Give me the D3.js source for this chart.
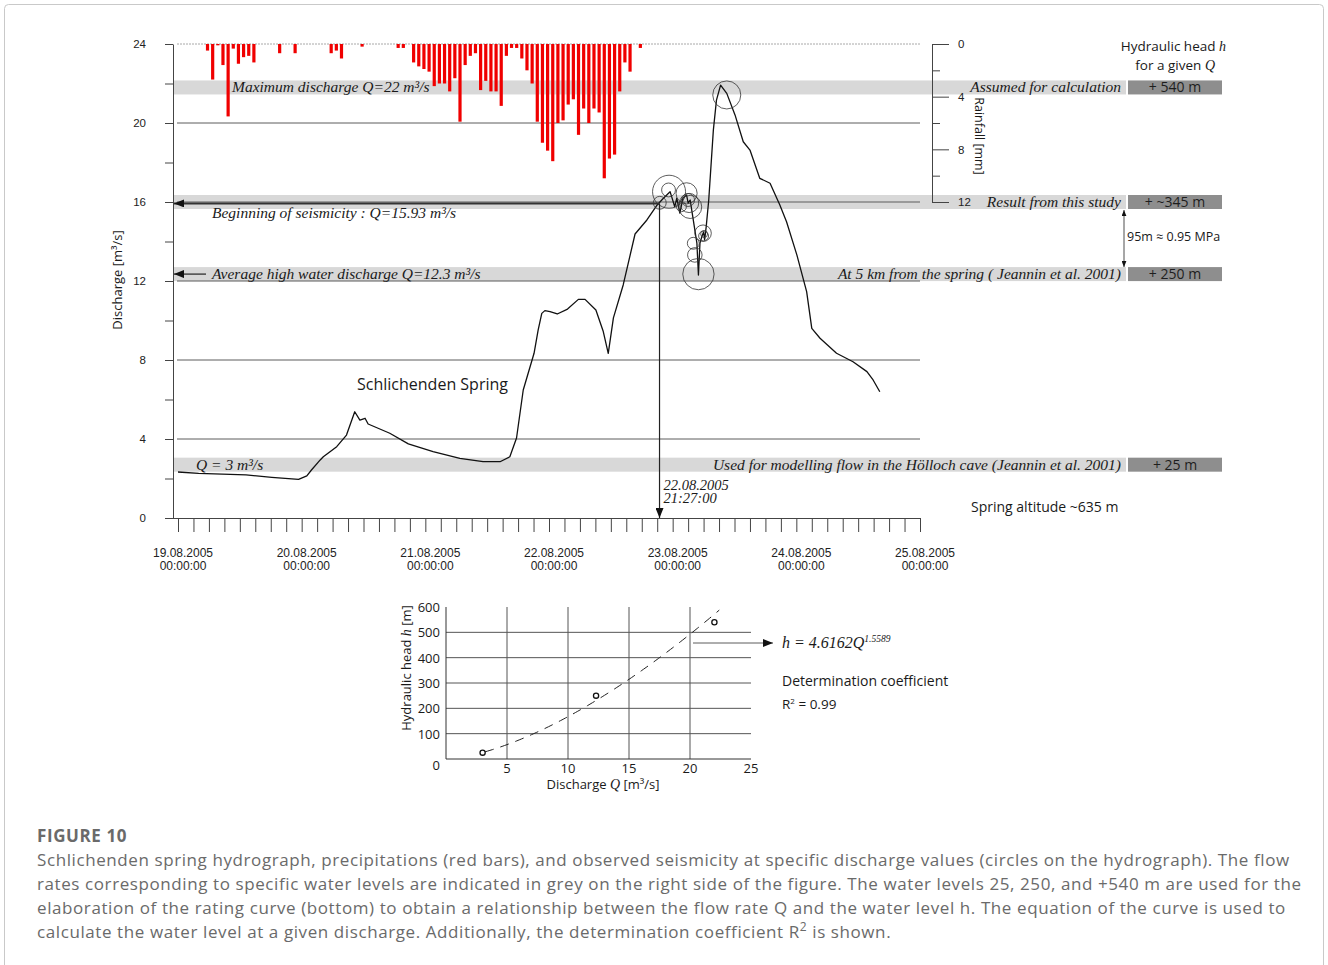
<!DOCTYPE html>
<html>
<head>
<meta charset="utf-8">
<script src="https://cdn.jsdelivr.net/npm/d3@7"></script>
<style>
body { margin: 0; background: #fff; }
text { font-family: "Open Sans", "Noto Sans", sans-serif; fill: #1a1a1a; }
.serif { font-family: "Liberation Serif", "Times New Roman", serif; font-style: italic; }
.arial { font-family: "Liberation Sans", Arial, sans-serif; }
.caption { fill: #6a6a6a; letter-spacing: 0.59px; }
</style>
</head>
<body>
<script>
// ---- data ----
// hydrograph: hours since 19.08.2005 00:00 and discharge [m3/s]
var hydroHour = [0, 4.0, 13.2, 18.2, 23.4, 25.0, 25.9, 27.6, 28.2, 30.8, 32.7, 34.3, 35.3, 36.3, 36.9,
  41.1, 44.7, 49.5, 54.7, 59.2, 62.5, 64.4, 65.7, 67.0, 69.1, 69.9, 70.6, 71.2, 72.2, 73.6,
  75.6, 77.7, 79.0, 81.1, 82.5, 83.5, 84.5, 86.4, 88.7, 91.0, 92.9, 94.2, 95.5, 95.8, 96.4,
  96.8, 97.4, 98.0, 98.7, 99.0, 99.4, 99.9, 100.7, 101.0, 101.3, 101.7, 102.0, 102.2, 102.5, 103.0,
  103.9, 104.5, 105.3, 106.5, 108.1, 109.7, 111.0, 112.9, 114.9, 116.8, 118.1, 120.1, 122.0, 123.0,
  124.6, 127.8, 131.0, 133.7, 134.9, 136.2];
var hydroQ = [2.33, 2.26, 2.18, 2.06, 1.96, 2.13, 2.43, 2.94, 3.10, 3.61, 4.20, 5.38, 4.96, 5.05, 4.76,
  4.29, 3.75, 3.36, 3.02, 2.85, 2.85, 3.10, 4.05, 6.48, 8.34, 9.52, 10.36, 10.50, 10.45, 10.33,
  10.58, 11.07, 11.07, 10.53, 9.47, 8.34, 10.13, 11.80, 14.38, 15.09, 15.82, 16.19, 16.52, 16.27, 15.76,
  16.20, 15.44, 16.20, 16.35, 15.95, 16.10, 15.26, 13.92, 12.30, 13.92, 14.28, 14.48, 14.08, 14.73, 16.10,
  19.65, 21.16, 21.92, 21.50, 20.41, 19.05, 18.63, 17.20, 16.95, 15.85, 15.00, 13.32, 11.46, 9.60,
  9.10, 8.34, 7.91, 7.41, 6.99, 6.39];

// hourly rainfall [mm]
var rainHour = [6, 7, 8, 9, 10, 11, 12, 13, 14, 15, 20, 23, 30, 31, 32, 36, 43, 44,
  46, 47, 48, 49, 50, 51, 52, 53, 54, 55, 56, 57, 58, 59, 60, 61, 62, 63, 64, 65, 66, 67, 68,
  69, 70, 71, 72, 73, 74, 75, 76, 77, 78, 79, 80, 81, 82, 83, 84, 85, 86, 87, 88, 90];
var rainMm = [0.5, 2.7, 0.1, 1.6, 5.5, 0.35, 1.5, 1.0, 0.9, 1.4, 0.7, 0.7, 0.7, 0.5, 1.1, 0.2, 0.3, 0.3,
  1.4, 1.7, 1.9, 2.1, 3.2, 3.0, 3.0, 3.6, 2.6, 5.9, 1.6, 0.9, 0.7, 3.5, 2.8, 3.6, 3.6, 4.7, 0.9, 0.3, 0.3, 1.1, 2.0,
  3.0, 5.9, 7.5, 8.1, 8.9, 6.0, 5.8, 4.6, 4.2, 6.9, 4.9, 6.0, 4.9, 5.2, 10.2, 8.7, 8.4, 3.6, 1.4, 2.1, 0.3];

// seismic events on the hydrograph (relative magnitude 0..1)
var seisHour = [93.5, 95.2, 95.3, 97.7, 98.7, 99.0, 99.2, 99.4, 100.0, 100.3, 101.0, 101.9, 102.0, 102.1, 106.5];
var seisQ = [15.96, 16.61, 16.52, 15.76, 16.44, 16.10, 15.95, 15.75, 13.91, 13.32, 12.35, 14.42, 14.28, 14.38, 21.42];
var seisMag = [0.39, 0.42, 1.0, 0.3, 0.64, 0.39, 0.58, 0.7, 0.36, 0.44, 0.95, 0.5, 0.3, 0.21, 0.85];

var seisStartHour = 93.45, seisStartQ = 15.93;

// reference discharge levels
var bandQ = [21.8, 16.0, 12.35, 2.7];
var bandLeftText = ["Maximum discharge Q=22 m³/s", "Beginning of seismicity : Q=15.93 m³/s",
  "Average high water discharge Q=12.3 m³/s", "Q = 3 m³/s"];
var bandRightText = ["Assumed for calculation", "Result from this study",
  "At 5 km from the spring ( Jeannin et al. 2001)", "Used for modelling flow in the Hölloch cave (Jeannin et al. 2001)"];
var headText = ["+ 540 m", "+ ~345 m", "+ 250 m", "+ 25 m"];

var dayHours = [0, 24, 48, 72, 96, 120, 144];
var dayLabels = ["19.08.2005", "20.08.2005", "21.08.2005", "22.08.2005", "23.08.2005", "24.08.2005", "25.08.2005"];
var qTicks = [0, 4, 8, 12, 16, 20, 24];
var rainTicks = [0, 4, 8, 12];

// rating curve
var ratingQ = [3, 12.3, 22];
var ratingH = [25, 250, 540];
var fitA = 4.6162, fitB = 1.5589;
var hTicks = [100, 200, 300, 400, 500, 600];
var dTicks = [5, 10, 15, 20, 25];

var captionLines = [
  "Schlichenden spring hydrograph, precipitations (red bars), and observed seismicity at specific discharge values (circles on the hydrograph). The flow",
  "rates corresponding to specific water levels are indicated in grey on the right side of the figure. The water levels 25, 250, and +540 m are used for the",
  "elaboration of the rating curve (bottom) to obtain a relationship between the flow rate Q and the water level h. The equation of the curve is used to",
  "calculate the water level at a given discharge. Additionally, the determination coefficient R"
];

// ---- chart ----
var width = 1328, height = 965;

var svg = d3.select("body").append("svg")
            .attr("width", width)
            .attr("height", height);

svg.append("rect")
   .attr("x", 4.5).attr("y", 4.5)
   .attr("width", 1319).attr("height", 1000)
   .attr("rx", 4)
   .attr("fill", "none")
   .attr("stroke", "#c9c9c9");

var defs = svg.append("defs");
defs.append("marker")
    .attr("id", "arrow")
    .attr("viewBox", "0 0 10 8")
    .attr("refX", 10).attr("refY", 4)
    .attr("markerWidth", 10).attr("markerHeight", 8)
    .attr("markerUnits", "userSpaceOnUse")
    .attr("orient", "auto-start-reverse")
    .append("path")
    .attr("d", "M0,0L10,4L0,8z")
    .attr("fill", "#111");
defs.append("marker")
    .attr("id", "smallArrow")
    .attr("viewBox", "0 0 10 8")
    .attr("refX", 10).attr("refY", 4)
    .attr("markerWidth", 6).attr("markerHeight", 5)
    .attr("markerUnits", "userSpaceOnUse")
    .attr("orient", "auto-start-reverse")
    .append("path")
    .attr("d", "M0,0L10,4L0,8z")
    .attr("fill", "#111");

var x = d3.scaleLinear().domain([0, 144]).range([178, 920]);
var y = d3.scaleLinear().domain([0, 24]).range([518, 44]);
var rainY = d3.scaleLinear().domain([0, 12]).range([44, 202]);
var sizeScale = d3.scaleLinear().domain([0, 1]).range([0, 16.5]);

// grey bands with the hydraulic head boxes
var bands = svg.append("g").attr("class", "bands");
bands.selectAll("rect.band")
     .data(bandQ)
     .enter()
     .append("rect")
     .attr("class", "band")
     .attr("x", 173)
     .attr("y", function(d) { return y(d) - 7; })
     .attr("width", 953)
     .attr("height", 14)
     .attr("fill", "#d8d8d8");
bands.selectAll("rect.head")
     .data(bandQ)
     .enter()
     .append("rect")
     .attr("class", "head")
     .attr("x", 1128)
     .attr("y", function(d) { return y(d) - 7; })
     .attr("width", 94)
     .attr("height", 14)
     .attr("fill", "#8e8e8e");

// horizontal grid
svg.append("g")
   .selectAll("line")
   .data([4, 8, 12, 16, 20])
   .enter()
   .append("line")
   .attr("x1", 177).attr("x2", 920)
   .attr("y1", function(d) { return y(d); })
   .attr("y2", function(d) { return y(d); })
   .attr("stroke", "#5c5c5c")
   .attr("stroke-width", 1);
svg.append("line")
   .attr("x1", 177).attr("x2", 920)
   .attr("y1", y(24)).attr("y2", y(24))
   .attr("stroke", "#a8a8a8")
   .attr("stroke-dasharray", "2,1");

// rainfall bars hanging from the top
svg.append("g")
   .selectAll("rect")
   .data(rainHour.map(function(h, i) { return {h: h, mm: rainMm[i]}; }))
   .enter()
   .append("rect")
   .attr("x", function(d) { return x(d.h) - 3; })
   .attr("y", rainY(0))
   .attr("width", 3.2)
   .attr("height", function(d) { return rainY(d.mm) - rainY(0); })
   .attr("fill", "#f00000");

// left axis
var yAxis = d3.axisLeft(y)
              .tickValues(d3.range(0, 25, 2))
              .tickSize(8)
              .tickSizeOuter(0)
              .tickPadding(19)
              .tickFormat(function(d) { return d % 4 === 0 ? d : ""; });
var gy = svg.append("g")
            .attr("transform", "translate(173,0)")
            .call(yAxis);
gy.selectAll("path, line").attr("stroke", "#444");
gy.selectAll("text").attr("class", "arial").style("font-size", "11.5px").style("fill", "#222");

// time axis
var xAxis = d3.axisBottom(x)
              .tickValues(d3.range(0, 145, 3))
              .tickSize(14)
              .tickSizeOuter(0)
              .tickFormat("");
var gx = svg.append("g")
            .attr("transform", "translate(0,518)")
            .call(xAxis);
gx.select(".domain").remove();
gx.selectAll("line").attr("stroke", "#444");
svg.append("line")
   .attr("x1", 173).attr("x2", 920)
   .attr("y1", 518.5).attr("y2", 518.5)
   .attr("stroke", "#444");

var dayLab = svg.append("g").attr("class", "days");
dayHours.forEach(function(h, i) {
  var t = dayLab.append("text")
                .attr("class", "arial")
                .attr("text-anchor", "middle")
                .style("font-size", "12px")
                .style("fill", "#222");
  t.append("tspan").attr("x", x(h) + 5).attr("y", 557).text(dayLabels[i]);
  t.append("tspan").attr("x", x(h) + 5).attr("y", 570).text("00:00:00");
});

// rainfall axis
var rainAxis = d3.axisRight(rainY)
                 .tickValues(d3.range(0, 13, 2))
                 .tickSize(8)
                 .tickSizeOuter(0)
                 .tickPadding(18)
                 .tickFormat(function(d) { return d % 4 === 0 ? d : ""; });
var gr = svg.append("g")
            .attr("transform", "translate(932,0)")
            .call(rainAxis);
gr.selectAll("path, line").attr("stroke", "#444");
gr.selectAll(".tick line").attr("x2", function(d) { return d % 4 === 0 ? 17 : 8; });
gr.selectAll("text").attr("class", "arial").style("font-size", "11.5px").style("fill", "#222");

svg.append("text")
   .attr("transform", "translate(975,136) rotate(90)")
   .attr("text-anchor", "middle")
   .style("font-size", "12.5px")
   .text("Rainfall [mm]");

svg.append("text")
   .attr("transform", "translate(122,280) rotate(-90)")
   .attr("text-anchor", "middle")
   .style("font-size", "13px")
   .text("Discharge [m³/s]");

// hydrograph
var line = d3.line()
             .x(function(d) { return x(d[0]); })
             .y(function(d) { return y(d[1]); });
svg.append("path")
   .datum(hydroHour.map(function(h, i) { return [h, hydroQ[i]]; }))
   .attr("d", line)
   .attr("fill", "none")
   .attr("stroke", "#111")
   .attr("stroke-width", 1.3)
   .attr("stroke-linejoin", "round");

// seismicity circles
svg.append("g")
   .selectAll("circle")
   .data(seisHour.map(function(h, i) { return {h: h, q: seisQ[i], m: seisMag[i]}; }))
   .enter()
   .append("circle")
   .attr("cx", function(d) { return x(d.h); })
   .attr("cy", function(d) { return y(d.q); })
   .attr("r", function(d) { return sizeScale(d.m); })
   .attr("fill", "none")
   .attr("stroke", "#333")
   .attr("stroke-width", 0.8);

// arrows
svg.append("line")
   .attr("x1", x(seisStartHour)).attr("y1", y(seisStartQ))
   .attr("x2", 174).attr("y2", y(seisStartQ))
   .attr("stroke", "#333").attr("stroke-width", 2)
   .attr("marker-end", "url(#arrow)");
svg.append("line")
   .attr("x1", x(seisStartHour)).attr("y1", y(seisStartQ))
   .attr("x2", x(seisStartHour)).attr("y2", y(0))
   .attr("stroke", "#222").attr("stroke-width", 1.2)
   .attr("marker-end", "url(#arrow)");
svg.append("line")
   .attr("x1", 206).attr("y1", y(bandQ[2]))
   .attr("x2", 174).attr("y2", y(bandQ[2]))
   .attr("stroke", "#222").attr("stroke-width", 1.2)
   .attr("marker-end", "url(#arrow)");
svg.append("line")
   .attr("x1", 1124).attr("y1", y(bandQ[1]) + 8)
   .attr("x2", 1124).attr("y2", y(bandQ[2]) - 7)
   .attr("stroke", "#222").attr("stroke-width", 0.8)
   .attr("marker-start", "url(#smallArrow)")
   .attr("marker-end", "url(#smallArrow)");

// band annotations
var leftX = [232, 212, 212, 196];
var leftDy = [5, 16, 5, 5];
bandQ.forEach(function(q, i) {
  svg.append("text")
     .attr("class", "serif")
     .attr("x", leftX[i]).attr("y", y(q) + leftDy[i])
     .style("font-size", "15.5px")
     .text(bandLeftText[i]);
  svg.append("text")
     .attr("class", "serif")
     .attr("x", 1121).attr("y", y(q) + 5)
     .attr("text-anchor", "end")
     .style("font-size", "15.5px")
     .text(bandRightText[i]);
  svg.append("text")
     .attr("x", 1175).attr("y", y(q) + 5)
     .attr("text-anchor", "middle")
     .style("font-size", "14px")
     .style("fill", "#1e1e1e")
     .text(headText[i]);
});

var hh = svg.append("text")
            .attr("x", 1226).attr("y", 51)
            .attr("text-anchor", "end")
            .style("font-size", "13.5px");
hh.append("tspan").text("Hydraulic head ");
hh.append("tspan").attr("class", "serif").style("font-size", "14px").text("h");
var hq = svg.append("text")
            .attr("x", 1215).attr("y", 70)
            .attr("text-anchor", "end")
            .style("font-size", "13.5px");
hq.append("tspan").text("for a given ");
hq.append("tspan").attr("class", "serif").style("font-size", "14px").text("Q");

svg.append("text")
   .attr("x", 1127).attr("y", 241)
   .style("font-size", "12.5px")
   .text("95m ≈ 0.95 MPa");

svg.append("text")
   .attr("x", 971).attr("y", 512)
   .style("font-size", "14px")
   .text("Spring altitude ~635 m");

svg.append("text")
   .attr("x", 357).attr("y", 390)
   .style("font-size", "16px")
   .text("Schlichenden Spring");

svg.append("text")
   .attr("class", "serif")
   .attr("x", x(seisStartHour) + 4).attr("y", 490)
   .style("font-size", "14.5px")
   .text("22.08.2005");
svg.append("text")
   .attr("class", "serif")
   .attr("x", x(seisStartHour) + 4).attr("y", 503)
   .style("font-size", "14.5px")
   .text("21:27:00");

// ---- rating curve ----
var sx = d3.scaleLinear().domain([0, 25]).range([446, 751]);
var sy = d3.scaleLinear().domain([0, 600]).range([759, 607]);

var rg = svg.append("g").attr("class", "rating");
rg.selectAll("line.v")
  .data([5, 10, 15, 20])
  .enter()
  .append("line")
  .attr("x1", function(d) { return sx(d); })
  .attr("x2", function(d) { return sx(d); })
  .attr("y1", sy(0)).attr("y2", sy(600))
  .attr("stroke", "#555");
rg.selectAll("line.h")
  .data([100, 200, 300, 400, 500])
  .enter()
  .append("line")
  .attr("x1", sx(0)).attr("x2", sx(25))
  .attr("y1", function(d) { return sy(d); })
  .attr("y2", function(d) { return sy(d); })
  .attr("stroke", "#555");
rg.append("line").attr("x1", sx(0)).attr("x2", sx(0)).attr("y1", sy(0)).attr("y2", sy(600)).attr("stroke", "#333");
rg.append("line").attr("x1", sx(0)).attr("x2", sx(25)).attr("y1", sy(0)).attr("y2", sy(0)).attr("stroke", "#333");

rg.selectAll("text.ht")
  .data(hTicks)
  .enter()
  .append("text")
  .attr("x", 440)
  .attr("y", function(d) { return sy(d) + 5; })
  .attr("text-anchor", "end")
  .style("font-size", "13px")
  .text(function(d) { return d; });
rg.append("text").attr("x", 440).attr("y", 770).attr("text-anchor", "end").style("font-size", "13px").text("0");
rg.selectAll("text.dt")
  .data(dTicks)
  .enter()
  .append("text")
  .attr("x", function(d) { return sx(d); })
  .attr("y", 773)
  .attr("text-anchor", "middle")
  .style("font-size", "13px")
  .text(function(d) { return d; });

var xt = rg.append("text").attr("x", 603).attr("y", 789).attr("text-anchor", "middle").style("font-size", "13px");
xt.append("tspan").text("Discharge ");
xt.append("tspan").attr("class", "serif").style("font-size", "14px").text("Q");
xt.append("tspan").text(" [m³/s]");

var yt = rg.append("text").attr("transform", "translate(411,668) rotate(-90)").attr("text-anchor", "middle").style("font-size", "13px");
yt.append("tspan").text("Hydraulic head ");
yt.append("tspan").attr("class", "serif").style("font-size", "14px").text("h");
yt.append("tspan").text(" [m]");

var fitPts = d3.range(3.2, 22.41, 0.2).map(function(q) { return [q, fitA * Math.pow(q, fitB)]; });
rg.append("path")
  .datum(fitPts)
  .attr("d", d3.line().x(function(d) { return sx(d[0]); }).y(function(d) { return sy(d[1]); }))
  .attr("fill", "none")
  .attr("stroke", "#222")
  .attr("stroke-width", 1)
  .attr("stroke-dasharray", "9,7");

rg.selectAll("circle")
  .data(ratingQ.map(function(q, i) { return [q, ratingH[i]]; }))
  .enter()
  .append("circle")
  .attr("cx", function(d) { return sx(d[0]); })
  .attr("cy", function(d) { return sy(d[1]); })
  .attr("r", 2.6)
  .attr("fill", "#fff")
  .attr("stroke", "#111")
  .attr("stroke-width", 1.3);

rg.append("line")
  .attr("x1", 693).attr("y1", 643)
  .attr("x2", 773).attr("y2", 643)
  .attr("stroke", "#333").attr("stroke-width", 0.8)
  .attr("marker-end", "url(#arrow)");

var eq = rg.append("text").attr("class", "serif").attr("x", 782).attr("y", 648).style("font-size", "16px");
eq.append("tspan").text("h = " + fitA + "Q");
eq.append("tspan").attr("dy", -6).style("font-size", "9.5px").text(fitB);

rg.append("text").attr("x", 782).attr("y", 686).style("font-size", "14px").text("Determination coefficient");
var r2 = rg.append("text").attr("x", 782).attr("y", 709).style("font-size", "13.5px");
r2.append("tspan").text("R");
r2.append("tspan").attr("dy", -5).style("font-size", "8px").text("2");
r2.append("tspan").attr("dy", 5).text(" = 0.99");

// ---- caption ----
svg.append("text")
   .attr("class", "caption")
   .attr("x", 37).attr("y", 842)
   .style("font-size", "17px")
   .style("font-weight", "bold")
   .text("FIGURE 10");
captionLines.forEach(function(s, i) {
  var t = svg.append("text")
             .attr("class", "caption")
             .attr("x", 37).attr("y", 866 + i * 24)
             .style("font-size", "17px")
             .text(s);
  if (i === captionLines.length - 1) {
    t.append("tspan").attr("dy", -7).style("font-size", "12px").text("2");
    t.append("tspan").attr("dy", 7).text(" is shown.");
  }
});
</script>
</body>
</html>
